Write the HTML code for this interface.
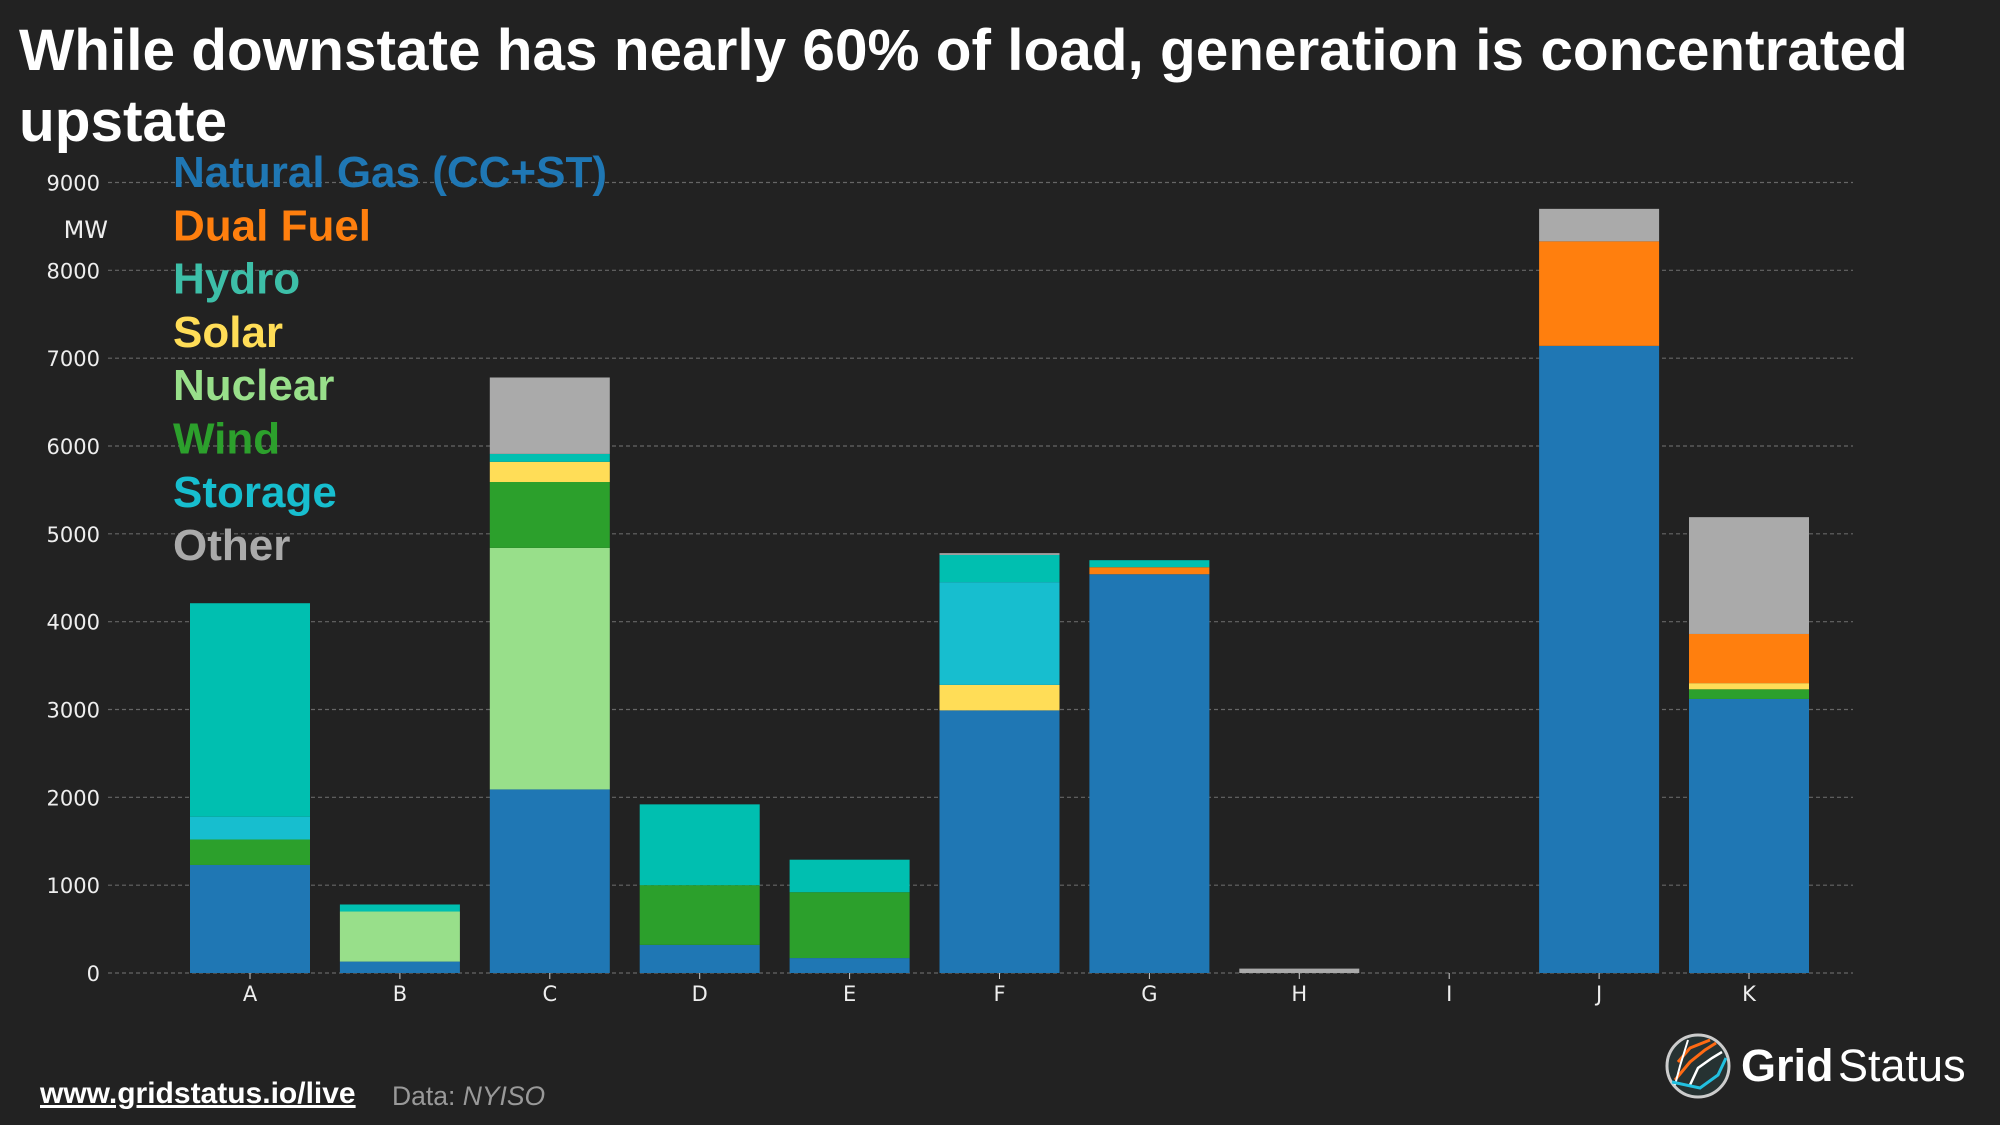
<!DOCTYPE html>
<html><head><meta charset="utf-8"><style>
html,body{margin:0;padding:0;background:#222222;}
svg{display:block;font-family:"Liberation Sans",sans-serif;}
</style></head><body>
<svg id="chart" width="2000" height="1125" viewBox="0 0 2000 1125" xmlns="http://www.w3.org/2000/svg">
<rect width="2000" height="1125" fill="#222222"/>
<text x="19" y="70" fill="#fff" font-size="58.5" font-weight="bold">While downstate has nearly 60% of load, generation is concentrated</text>
<text x="19" y="141" fill="#fff" font-size="58.5" font-weight="bold">upstate</text>
<g id="grid"></g>
<g id="bars"></g>
<g id="legend"></g>
<text x="108" y="238" fill="#eee" font-size="24" text-anchor="end" font-family="DejaVu Sans, sans-serif">MW</text>
<a><text x="40" y="1103" fill="#fff" font-size="30" font-weight="bold" text-decoration="underline">www.gridstatus.io/live</text></a>
<text x="392" y="1105" fill="#999" font-size="26.5">Data: <tspan font-style="italic">NYISO</tspan></text>
<g>
<circle cx="1698" cy="1066" r="31" fill="#263232" stroke="#ccc" stroke-width="3"/>
<path d="M1675 1080 L1690 1062 L1705 1050 L1716 1043" stroke="#ff6a13" stroke-width="3" fill="none"/>
<path d="M1678 1062 L1690 1048 L1710 1040" stroke="#ff6a13" stroke-width="3" fill="none"/>
<path d="M1690 1085 L1698 1068 L1712 1058 L1722 1052" stroke="#fff" stroke-width="2.5" fill="none"/>
<path d="M1675 1085 L1680 1066 L1688 1040" stroke="#fff" stroke-width="2" fill="none"/>
<path d="M1672 1082 L1700 1088 L1718 1075 L1726 1058" stroke="#22c0e0" stroke-width="3" fill="none"/>
<text x="1741" y="1081" fill="#fff" font-size="45" font-weight="bold">Grid</text>
<text x="1838" y="1081" fill="#fff" font-size="45">Status</text>
</g>
</svg>
<script>
const categories = ["A","B","C","D","E","F","G","H","I","J","K"];
const seriesNames = ["Natural Gas (CC+ST)","Nuclear","Wind","Solar","Dual Fuel","Storage","Hydro","Other"];
const gas     = [1230,130,2090,320,170,2990,4540,0,0,7140,3120];
const nuclear = [0,570,2750,0,0,0,0,0,0,0,0];
const wind    = [290,0,750,680,750,0,0,0,0,0,110];
const solar   = [0,0,230,0,0,290,0,0,0,0,70];
const dual    = [0,0,0,0,0,0,80,0,0,1190,560];
const storage = [260,0,0,0,0,1170,0,0,0,0,0];
const hydro   = [2430,80,90,920,370,310,80,0,0,0,0];
const other   = [0,0,870,0,0,20,0,50,0,370,1330];
const yTicks  = [0,1000,2000,3000,4000,5000,6000,7000,8000,9000];
const seriesValues = [gas,nuclear,wind,solar,dual,storage,hydro,other];
const barColors = ["#1f77b4","#98df8a","#2ca02c","#ffdd57","#ff7f0e","#17becf","#00bfb0","#aaaaaa"];
const legendOrder = [0,4,6,3,1,2,5,7];
const legendColors = ["#1f77b4","#98df8a","#2ca02c","#ffdd57","#ff7f0e","#17becf","#3dbfa8","#aaaaaa"];

const NS="http://www.w3.org/2000/svg";
const y=v=>973-v*(973-182.5)/9000;
const x=i=>250+i*149.9;
const barW=120;
function mk(tag,attrs,parent){const e=document.createElementNS(NS,tag);for(const k in attrs)e.setAttribute(k,attrs[k]);parent.appendChild(e);return e;}
const grid=document.getElementById('grid');
yTicks.forEach(t=>{
  const l=mk('line',{x1:108,x2:1853,y1:y(t),y2:y(t),stroke:'#666','stroke-width':1.2,'stroke-dasharray':'4,3'},grid);
  
  
  const tx=mk('text',{x:100,y:y(t)+8,fill:'#eee','font-size':21,'text-anchor':'end','font-family':'DejaVu Sans, sans-serif'},grid);
  tx.textContent=t;
  
  
});
const bars=document.getElementById('bars');
categories.forEach((c,i)=>{
  let base=0;
  seriesValues.forEach((s,k)=>{
    const v=s[i]; if(v<=0)return;
    const r=mk('rect',{x:x(i)-barW/2,y:y(base+v),width:barW,height:y(base)-y(base+v),fill:barColors[k]},bars);
    
    
    base+=v;
  });
  const tk=mk('line',{x1:x(i),x2:x(i),y1:973,y2:979,stroke:'#ccc'},bars);
  
  
  const t=mk('text',{x:x(i),y:1001,fill:'#eee','font-size':21,'text-anchor':'middle','font-family':'DejaVu Sans, sans-serif'},bars);
  t.textContent=c;
  
  
});
const lg=document.getElementById('legend');
legendOrder.forEach((k,j)=>{
  const t=mk('text',{x:173,y:187+j*53.3,fill:legendColors[k],'font-size':44,'font-weight':'bold'},lg);
  t.textContent=seriesNames[k];
  
  
});
</script>
</body></html>
